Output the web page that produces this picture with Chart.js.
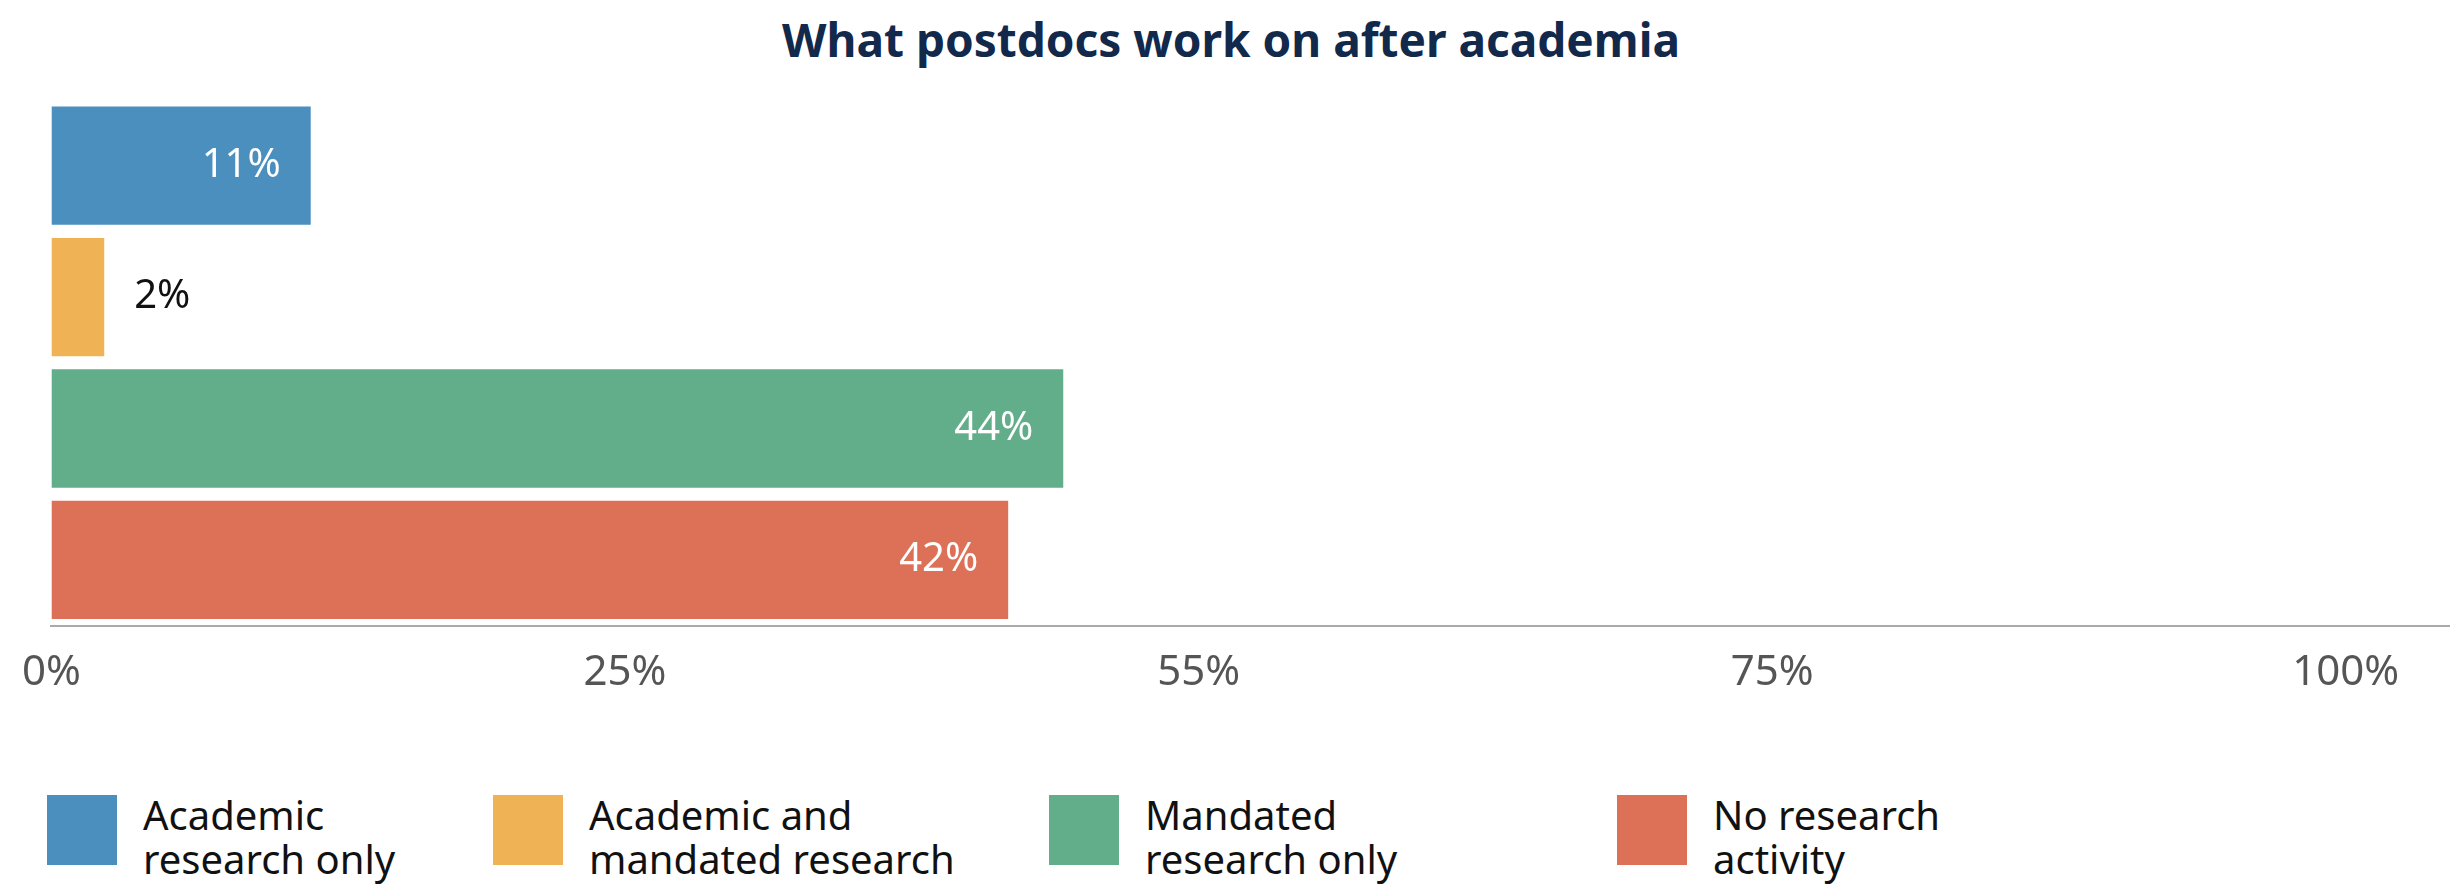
<!DOCTYPE html>
<html><head><meta charset="utf-8">
<script src="https://cdn.jsdelivr.net/npm/chart.js@4"></script>
<style>
body{margin:0;width:2462px;height:888px;background:#fff;font-family:"Noto Sans",sans-serif;position:relative;overflow:hidden}
#title{position:absolute;top:8px;left:0;width:100%;text-align:center;font-size:46px;font-weight:bold;color:#13294b}
#wrap{position:absolute;left:0;top:90px;width:2462px;height:630px}
#legend{position:absolute;top:793px;left:0;width:100%}
.item{position:absolute;display:flex;align-items:flex-start}
.box{width:70px;height:70px;margin-right:26px;margin-top:2px}
.lab{font-size:40px;line-height:44px;color:#111}
</style></head><body>
<div id="title">What postdocs work on after academia</div>
<div id="wrap"><canvas id="c"></canvas></div>
<div id="legend"></div>
<script>
const categories = ['Academic research only', 'Academic and mandated research', 'Mandated research only', 'No research activity'];
const legendLabels = [['Academic', 'research only'], ['Academic and', 'mandated research'], ['Mandated', 'research only'], ['No research', 'activity']];
const values = [11.3, 2.3, 44.1, 41.7];
const valueLabels = ['11%', '2%', '44%', '42%'];
const tickValues = [0, 25, 50, 75, 100];
const tickLabels = ['0%', '25%', '55%', '75%', '100%'];
const colors = ['#4a8fbe', '#efb255', '#62ad8a', '#dd7157'];
const legendX = [47, 493, 1049, 1617];

const lg = document.getElementById('legend');
legendLabels.forEach((l, i) => {
    lg.innerHTML += `<div class="item" style="left:${legendX[i]}px"><div class="box" style="background:${colors[i]}"></div><div class="lab">${l.join('<br>')}</div></div>`;
});

const barLabels = {
    id: 'barLabels',
    afterDatasetsDraw(chart) {
        const ctx = chart.ctx;
        const meta = chart.getDatasetMeta(0);
        ctx.save();
        ctx.font = '40px "Noto Sans"';
        ctx.textBaseline = 'middle';
        meta.data.forEach((bar, i) => {
            if (values[i] < 5) {
                ctx.fillStyle = '#111';
                ctx.textAlign = 'left';
                ctx.fillText(valueLabels[i], bar.x + 30, bar.y);
            } else {
                ctx.fillStyle = '#fff';
                ctx.textAlign = 'right';
                ctx.fillText(valueLabels[i], bar.x - 30, bar.y);
            }
        });
        ctx.restore();
    }
};

new Chart(document.getElementById('c'), {
    type: 'bar',
    data: {
        labels: categories,
        datasets: [{ data: values, backgroundColor: colors, barPercentage: 0.9, categoryPercentage: 1 }]
    },
    options: {
        indexAxis: 'y',
        responsive: true,
        maintainAspectRatio: false,
        animation: false,
        layout: { padding: { left: 39, right: 13, top: 10 } },
        plugins: { legend: { display: false }, tooltip: { enabled: false } },
        scales: {
            y: { display: false },
            x: {
                min: 0, max: 104.5,
                afterBuildTicks: ax => { ax.ticks = tickValues.map(v => ({ value: v })); },
                grid: { display: false, drawTicks: false },
                border: { color: '#aaaaaa', width: 2 },
                ticks: {
                    color: '#555', font: { size: 42, family: 'Noto Sans' }, padding: 22,
                    callback: (v) => tickLabels[tickValues.indexOf(v)]
                }
            }
        }
    },
    plugins: [barLabels]
});
</script>
</body></html>
